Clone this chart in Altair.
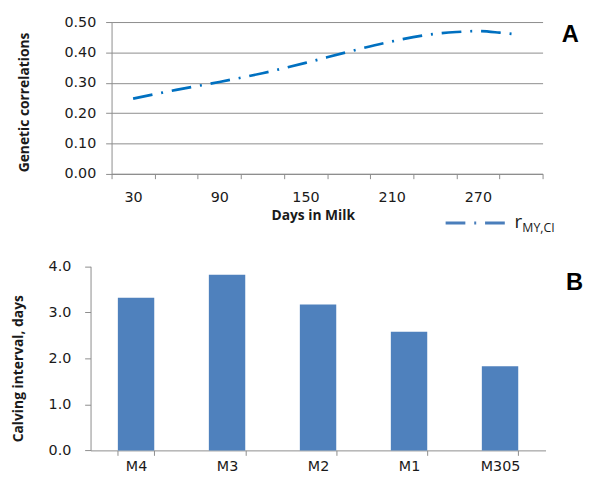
import altair as alt
import pandas as pd

# ---- Panel A data ----
days = [30, 60, 90, 120, 150, 180, 210, 240, 255, 270, 285, 297]
corr = [0.248, 0.277, 0.303, 0.332, 0.366, 0.403, 0.437, 0.462, 0.468, 0.471, 0.466, 0.460]
x_ticks = list(range(15, 316, 15))
y_ticks_a = [0.0, 0.1, 0.2, 0.3, 0.4, 0.5]

# ---- Panel B data ----
models = ["M4", "M3", "M2", "M1", "M305"]
ci = [3.32, 3.82, 3.17, 2.58, 1.83]
y_ticks_b = [0, 1, 2, 3, 4]

GRID = "#8c8c8c"
TXT = "#1a1a1a"
LBL_FONT = "DejaVu Sans"
TTL_FONT = "Open Sans"

W, H = 584, 466

dfa = pd.DataFrame({"day": days, "r": corr})
dfb = pd.DataFrame({"model": models, "ci": ci})
one = pd.DataFrame({"k": [0]})

line = alt.Chart(dfa).mark_line(
    color="#0070C0", strokeWidth=2.7, strokeDash=[20, 9, 2, 9],
    strokeCap="butt", interpolate="monotone"
).encode(
    x=alt.X("day:Q", scale=alt.Scale(domain=[15, 315], range=[105, 542], nice=False, zero=False),
            axis=alt.Axis(orient="bottom", offset=164.8 - H, values=x_ticks, format="d",
                          labelExpr="datum.value % 60 == 30 ? datum.label : ''",
                          tickColor={"condition": {"test": "datum.value % 30 == 15", "value": GRID},
                                     "value": "transparent"},
                          grid=False, tickSize=5, labelPadding=12, labelOverlap=False,
                          labelFlush=False, title="Days in Milk", titleX=309, titlePadding=5)),
    y=alt.Y("r:Q", scale=alt.Scale(domain=[0, 0.5], range=[164.8, 11.3], nice=False),
            axis=alt.Axis(orient="left", offset=-105, values=y_ticks_a, format=".2f",
                          tickSize=6, labelPadding=10,
                          title="Genetic correlations", titlePadding=33, titleY=92)),
)

leg_rule = alt.Chart(one).mark_rule(
    color="#4A7EBB", strokeWidth=3, strokeDash=[20, 9, 2, 9], strokeCap="butt"
).encode(x=alt.value(443.7), x2=alt.value(505.3), y=alt.value(214.7))

leg_r = alt.Chart(one).mark_text(
    text="r", font=TTL_FONT, fontSize=19, align="left", baseline="alphabetic", color=TXT
).encode(x=alt.value(513.5), y=alt.value(220))

leg_sub = alt.Chart(one).mark_text(
    text="MY,CI", font=TTL_FONT, fontSize=12.5, align="left", baseline="alphabetic", color=TXT
).encode(x=alt.value(521.5), y=alt.value(224))

lab_a = alt.Chart(one).mark_text(
    text="A", font="Liberation Sans", fontWeight="bold", fontSize=24,
    align="center", baseline="middle", color="#000000"
).encode(x=alt.value(570), y=alt.value(24.5))

bars = alt.Chart(dfb).mark_bar(color="#4F81BD").encode(
    x=alt.X("model:N", sort=models,
            scale=alt.Scale(range=[83.7, 545], paddingInner=0.6, paddingOuter=0.3),
            axis=alt.Axis(orient="bottom", offset=445.3 - H, labelAngle=0, tickBand="extent",
                          tickSize=5, labelPadding=4, title=None, grid=False)),
    y=alt.Y("ci:Q", scale=alt.Scale(domain=[0, 4], range=[445.3, 258.7], nice=False),
            axis=alt.Axis(orient="left", offset=-83.7, values=y_ticks_b, format=".1f",
                          tickSize=6, labelPadding=14,
                          title="Calving interval, days", titlePadding=23, titleY=362)),
)

lab_b = alt.Chart(one).mark_text(
    text="B", font="Liberation Sans", fontWeight="bold", fontSize=24,
    align="center", baseline="middle", color="#000000"
).encode(x=alt.value(574.5), y=alt.value(276))

chart = alt.layer(line, leg_rule, leg_r, leg_sub, lab_a, bars, lab_b).resolve_scale(
    x="independent", y="independent"
).resolve_axis(
    x="independent", y="independent"
).properties(
    width=W, height=H, padding=0, autosize=alt.AutoSizeParams(type="none")
).configure_view(
    stroke=None
).configure_axis(
    domainColor=GRID, tickColor=GRID, gridColor=GRID, gridWidth=1, domainWidth=1, tickWidth=1,
    labelFont=LBL_FONT, labelFontSize=14.5, labelColor=TXT,
    titleFont=TTL_FONT, titleFontSize=14, titleFontWeight="bold", titleColor=TXT,
)

chart.save("out.html", embed_options={"renderer": "svg", "actions": False})
